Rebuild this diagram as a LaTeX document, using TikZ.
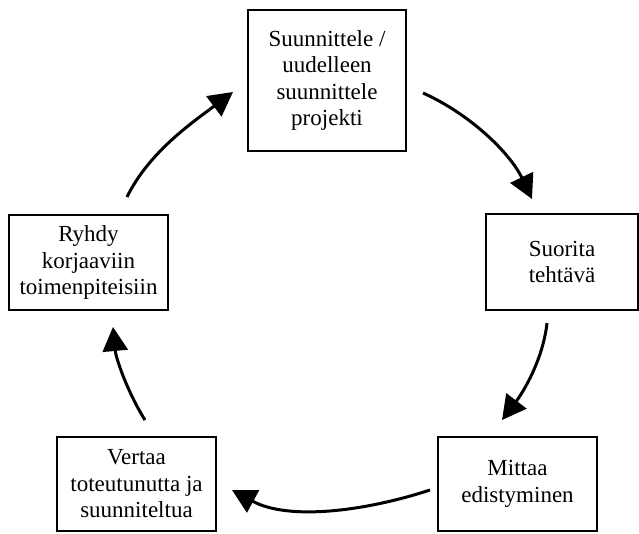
\documentclass[tikz,border=0pt]{standalone}
\usepackage{fontspec}
\setmainfont{Liberation Serif}
\usetikzlibrary{arrows.meta}

\tikzset{
  stagebox/.style={draw, line width=1.6pt, inner sep=0pt, align=center,
    font=\fontsize{23}{26.5}\selectfont},
  cyclearrow/.style={line width=3pt,
    -{Triangle[length=24pt,width=25pt]}}
}

\begin{document}
\begin{tikzpicture}[x=1pt,y=-1pt]
  \useasboundingbox (0,0) rectangle (639,533);

  % the five stages of the cycle
  \node[stagebox, minimum width=158pt, minimum height=141pt] (plan) at (327,80.5)
    {Suunnittele /\\uudelleen\\suunnittele\\projekti};
  \node[stagebox, minimum width=152pt, minimum height=96pt] (do) at (562,262)
    {Suorita\\tehtävä};
  \node[stagebox, minimum width=159pt, minimum height=94pt] (measure) at (517.5,484)
    {Mittaa\\edistyminen};
  \node[stagebox, minimum width=159pt, minimum height=94pt] (compare) at (136.5,484)
    {Vertaa\\toteutunutta ja\\suunniteltua};
  \node[stagebox, minimum width=159pt, minimum height=95pt] (act) at (88.5,262.5)
    {Ryhdy\\korjaaviin\\toimenpiteisiin};

  % end points of the curved arrows between the stages
  \coordinate (a1s) at (423,93);   \coordinate (a1e) at (532,199);
  \coordinate (a2s) at (547,323);  \coordinate (a2e) at (502,420);
  \coordinate (a3s) at (430,490);  \coordinate (a3e) at (232,490);
  \coordinate (a4s) at (145,420);  \coordinate (a4e) at (113,327);
  \coordinate (a5s) at (127,197);  \coordinate (a5e) at (233,92);

  \draw[cyclearrow] (a1s) .. controls (470,114) and (510,153) .. (a1e);
  \draw[cyclearrow] (a2s) .. controls (543,359) and (524,391) .. (a2e);
  \draw[cyclearrow] (a3s) .. controls (366,511) and (289,521) .. (a3e);
  \draw[cyclearrow] (a4s) .. controls (128,393) and (116,359) .. (a4e);
  \draw[cyclearrow] (a5s) .. controls (149,152) and (193,122) .. (a5e);
\end{tikzpicture}
\end{document}
